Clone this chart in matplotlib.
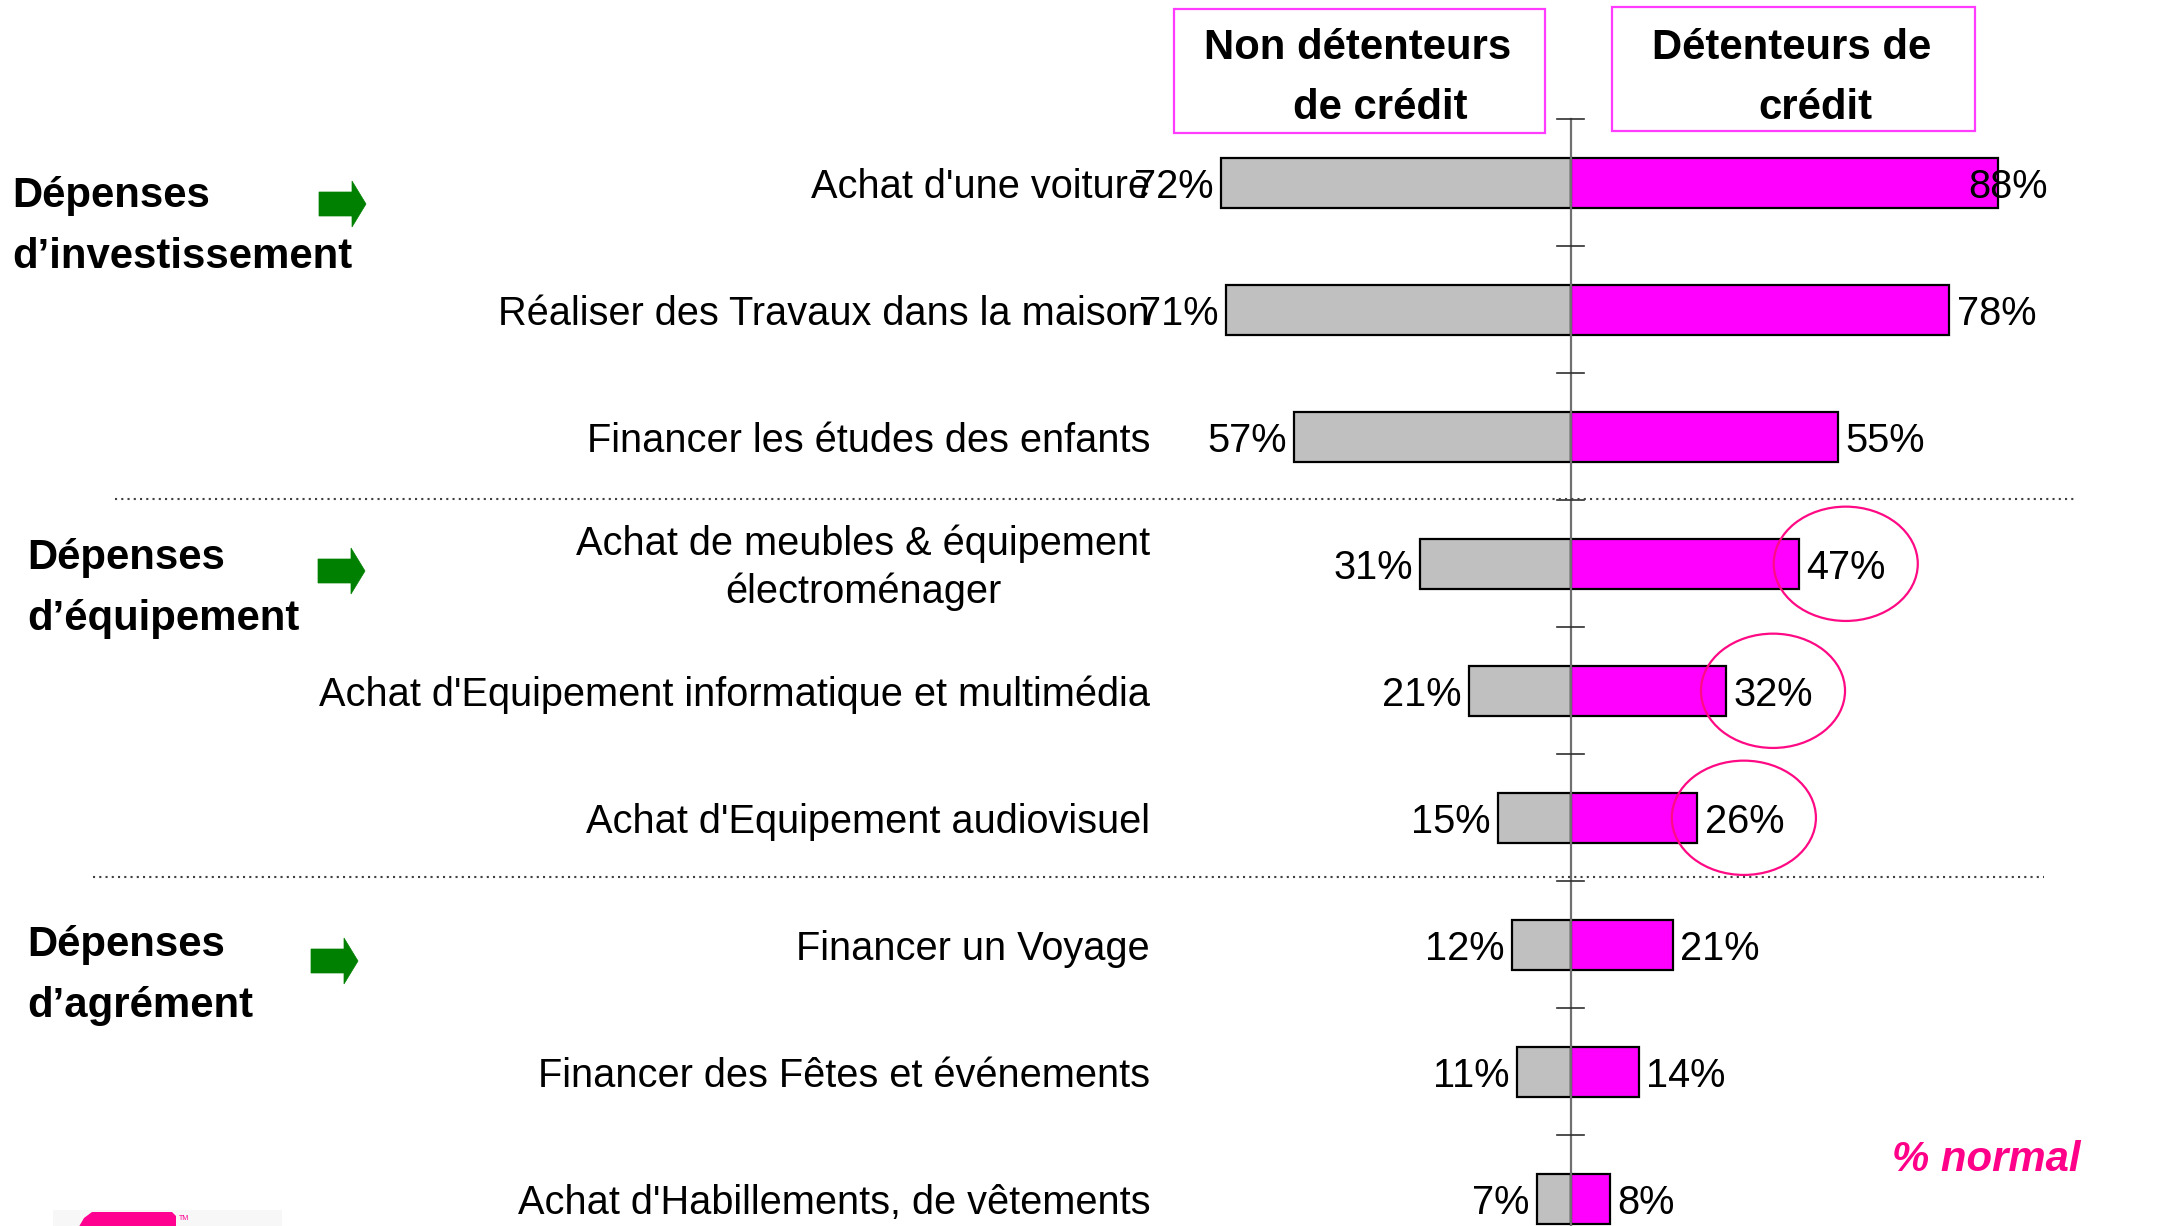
import matplotlib
matplotlib.use('Agg')
import matplotlib.pyplot as plt
import numpy as np
from matplotlib.patches import Rectangle, Ellipse, Polygon, FancyBboxPatch

categories = ["Achat d'une voiture",
              "Réaliser des Travaux dans la maison",
              "Financer les études des enfants",
              "Achat de meubles & équipement\nélectroménager",
              "Achat d'Equipement informatique et multimédia",
              "Achat d'Equipement audiovisuel",
              "Financer un Voyage",
              "Financer des Fêtes et événements",
              "Achat d'Habillements, de vêtements"]
non_detenteurs = [72, 71, 57, 31, 21, 15, 12, 11, 7]
detenteurs = [88, 78, 55, 47, 32, 26, 21, 14, 8]
highlighted = [3, 4, 5]
header_left = ["Non détenteurs", "de crédit"]
header_right = ["Détenteurs de", "crédit"]
groups = [["Dépenses", "d’investissement"],
          ["Dépenses", "d’équipement"],
          ["Dépenses", "d’agrément"]]
note = "% normal"

FONT = 'Liberation Sans'
W, H = 2169, 1226
fig = plt.figure(figsize=(W / 100, H / 100), dpi=100)
fig.patch.set_facecolor('white')

# main data axes (whole figure)
ax = fig.add_axes([0, 0, 1, 1])
cx, ppu, y0, rs = 1570.7, 4.851, 182.8, 127.0
ax.set_xlim(-cx / ppu, (W - cx) / ppu)
ax.set_ylim((H - y0) / rs, -y0 / rs)
ax.axis('off')

ys = np.arange(len(categories))
ax.barh(ys, [-v for v in non_detenteurs], height=0.39, color='#C0C0C0',
        edgecolor='black', linewidth=1.6, zorder=2)
ax.barh(ys, detenteurs, height=0.39, color='#FF00FF',
        edgecolor='black', linewidth=1.6, zorder=2)

# central axis with ticks
ax.plot([0, 0], [-0.5, 9.5], color='#707070', lw=1.6, zorder=3)
for t in np.arange(-0.5, len(categories), 1.0):
    ax.plot([-2.8, 2.8], [t, t], color='#303030', lw=1.2, zorder=3)

fs = 28.6
dy = 0.03
xmax_lab = 98.3
for i, (cat, a, b) in enumerate(zip(categories, non_detenteurs, detenteurs)):
    ax.text(-86.7, i + dy, cat, ha='right', va='center', fontsize=fs, family=FONT,
            multialignment='center', linespacing=1.32)
    ax.text(-a - 1.6, i + dy, f"{a}%", ha='right', va='center', fontsize=fs, family=FONT, zorder=4)
    if b + 1.6 + 16.5 > xmax_lab:
        ax.text(xmax_lab, i + dy, f"{b}%", ha='right', va='center', fontsize=fs, family=FONT, zorder=4)
    else:
        ax.text(b + 1.6, i + dy, f"{b}%", ha='left', va='center', fontsize=fs, family=FONT, zorder=4)

for i in highlighted:
    ax.add_patch(Ellipse((detenteurs[i] + 9.7, i), width=29.7, height=0.9,
                         fill=False, edgecolor='#FF0A84', lw=1.6, zorder=5))

# overlay in pixel coordinates for decorations
ov = fig.add_axes([0, 0, 1, 1])
ov.set_xlim(0, W)
ov.set_ylim(H, 0)
ov.axis('off')
ov.patch.set_alpha(0)

# dotted separators
ov.plot([115, 2075], [499, 499], color='#404040', lw=1.5, ls=(0, (1, 2)))
ov.plot([93, 2044], [877, 877], color='#404040', lw=1.5, ls=(0, (1, 2)))

# header boxes
hfs = 30.2
ov.add_patch(Rectangle((1174, 9), 371, 124, fill=False, edgecolor='#FF3CFF', lw=1.6))
ov.add_patch(Rectangle((1612, 7), 363, 124, fill=False, edgecolor='#FF3CFF', lw=1.6))
ov.text(1358, 59, header_left[0], ha='center', va='baseline', fontsize=hfs, family=FONT, weight='bold')
ov.text(1380, 119, header_left[1], ha='center', va='baseline', fontsize=hfs, family=FONT, weight='bold')
ov.text(1792, 59, header_right[0], ha='center', va='baseline', fontsize=hfs, family=FONT, weight='bold')
ov.text(1815, 119, header_right[1], ha='center', va='baseline', fontsize=hfs, family=FONT, weight='bold')

# group labels and arrows
gpos = [(12, 207, 268), (27, 569, 630), (27, 956, 1017)]
apos = [(319, 204), (318, 571), (311, 961)]
for (l1, l2), (gx, b1, b2), (axx, ay) in zip(groups, gpos, apos):
    ov.text(gx, b1, l1, ha='left', va='baseline', fontsize=hfs, family=FONT, weight='bold')
    ov.text(gx, b2, l2, ha='left', va='baseline', fontsize=hfs, family=FONT, weight='bold')
    pts = [(axx, ay - 12), (axx + 33, ay - 12), (axx + 33, ay - 23), (axx + 47, ay),
           (axx + 33, ay + 23), (axx + 33, ay + 12), (axx, ay + 12)]
    ov.add_patch(Polygon(pts, closed=True, facecolor='#008000', edgecolor='#008000', lw=0.5))

# note
ov.text(1892, 1171, note, ha='left', va='baseline', fontsize=hfs, family=FONT,
        weight='bold', style='italic', color='#FF0088')

# logo fragment
ov.add_patch(Rectangle((53, 1210), 229, 20, facecolor='#F7F7F7', edgecolor='none'))
ov.add_patch(Polygon([(77, 1230), (84, 1218), (92, 1212), (172, 1212), (176, 1216), (176, 1230)],
                     closed=True, facecolor='#FF0090', edgecolor='none'))
ov.text(179, 1219, 'TM', ha='left', va='center', fontsize=5, family=FONT, color='#FF0090')

fig.savefig('out.png', dpi=100)
